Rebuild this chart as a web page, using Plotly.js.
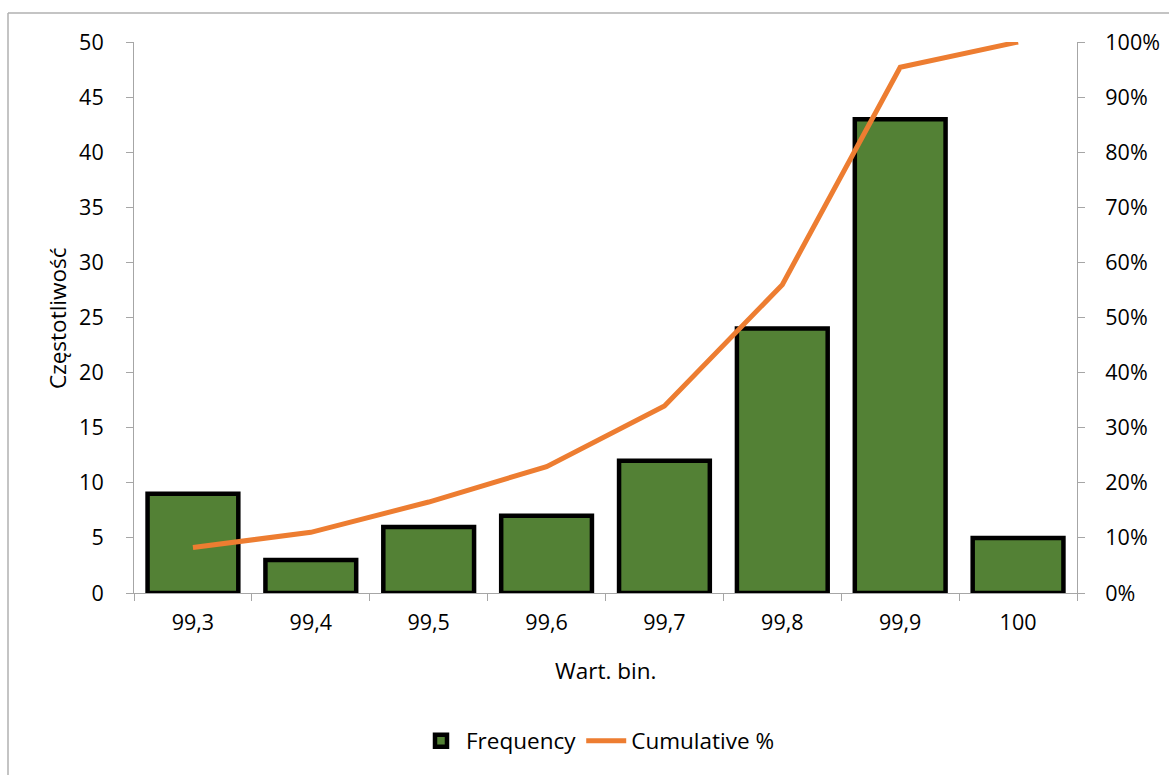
<!DOCTYPE html>
<html>
<head>
<meta charset="utf-8">
<script src="https://cdn.plot.ly/plotly-3.0.1.min.js"></script>
<style>html,body{margin:0;padding:0;background:#fff;}#chart{width:1169px;height:775px;}</style>
</head>
<body>
<div id="chart"></div>
<script>
const categories = ["99,3", "99,4", "99,5", "99,6", "99,7", "99,8", "99,9", "100"];
const frequency = [9, 3, 6, 7, 12, 24, 43, 5];
const cumulativePct = [0.0826, 0.1101, 0.1651, 0.2294, 0.3394, 0.5596, 0.9541, 1.0];
const yTicks = [0, 5, 10, 15, 20, 25, 30, 35, 40, 45, 50];
const y2Ticks = [0, 0.1, 0.2, 0.3, 0.4, 0.5, 0.6, 0.7, 0.8, 0.9, 1.0];

const FONT = "Open Sans, Liberation Sans, Arial, sans-serif";
const FS = 21.5;
const FS2 = 22.5;
const axisGray = "#a6a6a6";

const traces = [
  {
    type: "bar", name: "Frequency", x: categories, y: frequency,
    width: 0.77,
    marker: {color: "#538135", line: {color: "#000000", width: 4.5}},
    yaxis: "y"
  },
  {
    type: "scatter", mode: "lines", name: "Cumulative %", x: categories, y: cumulativePct,
    line: {color: "#ED7D31", width: 5},
    yaxis: "y2"
  }
];

const L = 134, R = 1077, T = 42, B = 593;
const W = R - L, H = B - T;
const px = v => (v - L) / W;
const py = v => (B - v) / H;

const layout = {
  width: 1169, height: 775,
  margin: {l: L, r: 1169 - R, t: T, b: 775 - B},
  paper_bgcolor: "#ffffff", plot_bgcolor: "#ffffff",
  font: {family: FONT, size: FS, color: "#000000"},
  showlegend: true,
  bargap: 0.2,
  xaxis: {
    type: "category", showgrid: false, zeroline: false,
    showline: true, linecolor: axisGray, linewidth: 1,
    ticks: "outside", ticklen: 7, tickcolor: axisGray, tickson: "boundaries",
    ticklabelstandoff: 10,
    tickfont: {family: FONT, size: FS, color: "#000"},
    range: [-0.5, 7.5], fixedrange: true
  },
  yaxis: {
    range: [0, 50], tickvals: yTicks, showgrid: false, zeroline: false,
    showline: true, linecolor: axisGray, linewidth: 1,
    ticks: "outside", ticklen: 7, tickcolor: axisGray,
    ticklabelstandoff: 18,
    tickfont: {family: FONT, size: FS, color: "#000"}
  },
  yaxis2: {
    range: [0, 1], tickvals: y2Ticks, tickformat: ".0%", overlaying: "y", side: "right",
    showgrid: false, zeroline: false,
    showline: true, linecolor: axisGray, linewidth: 1,
    ticks: "outside", ticklen: 7, tickcolor: axisGray,
    ticklabelstandoff: 16,
    tickfont: {family: FONT, size: FS, color: "#000"}
  },
  legend: {
    orientation: "h", x: px(598), xanchor: "center", y: py(741), yanchor: "middle",
    font: {family: FONT, size: FS2, color: "#000"},
    itemwidth: 40, tracegroupgap: 0, bgcolor: "rgba(0,0,0,0)"
  },
  annotations: [
    {text: "Częstotliwość", xref: "paper", yref: "paper", x: px(57), y: py(318),
     textangle: -90, showarrow: false, xanchor: "center", yanchor: "middle",
     font: {family: FONT, size: FS2, color: "#000"}},
    {text: "Wart. bin.", xref: "paper", yref: "paper", x: px(605), y: py(670),
     showarrow: false, xanchor: "center", yanchor: "middle",
     font: {family: FONT, size: FS2, color: "#000"}}
  ],
  shapes: [
    {type: "line", xref: "paper", yref: "paper", x0: px(8), x1: px(8), y0: py(13), y1: py(800),
     line: {color: "#b0b0b0", width: 1.5}},
    {type: "line", xref: "paper", yref: "paper", x0: px(8), x1: px(1200), y0: py(13), y1: py(13),
     line: {color: "#b0b0b0", width: 1.5}}
  ]
};

Plotly.newPlot("chart", traces, layout, {displayModeBar: false, staticPlot: true});
</script>
</body>
</html>
